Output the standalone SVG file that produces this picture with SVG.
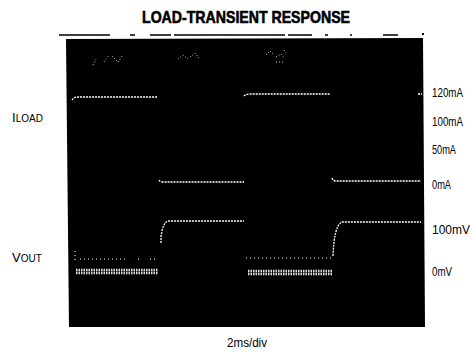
<svg xmlns="http://www.w3.org/2000/svg" width="472" height="354" viewBox="0 0 472 354">
<style>
.t{font-family:"Liberation Sans",Arial,sans-serif;fill:#000}
.lab{font-family:"Liberation Sans",Arial,sans-serif;font-size:13px;fill:#000}
.tr{fill:none;stroke:#fff;stroke-width:1.3;stroke-dasharray:2 1}
.trb{fill:none;stroke:#ddd;stroke-width:2.5;stroke-dasharray:1.5 1}
.dot{fill:none;stroke:#fff;stroke-width:1;stroke-dasharray:1 3}
</style>
<rect width="472" height="354" fill="#fff"/>
<text class="t" x="246" y="23" text-anchor="middle" font-size="17" font-weight="bold" stroke="#000" stroke-width="0.6" textLength="208" lengthAdjust="spacingAndGlyphs">LOAD-TRANSIENT RESPONSE</text>
<g id="frame">
<path d="M59 35H110M130 35H135M150 35H171M174 35H285M288 35H312M325 35H328M350 35H352M383 35H398" stroke="#000" stroke-width="1.3"/>
<rect x="422" y="33" width="2" height="2" fill="#000"/>
<polygon points="66,39 423,38 425,327 69,327" fill="#000"/>
</g>
<g id="marks" fill="none" stroke="#ccc" stroke-width="1" stroke-dasharray="1 2">
<path d="M93 65l3-6M104 62l5-7M112 56l6 6M118 62l4-6"/>
<path d="M178 59l5-4 5 4M190 57l5-4 4 5"/>
<path d="M266 55l4-4 4 4M276 57l5-3 3 4M284 50l2 3M276 62h8"/>
</g>
<g id="connectors">
<path class="tr" d="M72 100q2-3 6-3H157"/>
<path class="tr" d="M244 96q2-2 6-2H330"/>
<path class="tr" d="M418 94h4"/>
<path class="tr" d="M159 180q1 2 4 2H244"/>
<path class="tr" d="M332 178q1 3 4 3H421"/>
<path class="tr" d="M161 243v-6q2-16 8-16H244"/>
<path class="tr" d="M333 256q1-30 9-34H421"/>
<path class="dot" d="M75 251v10M80 259H128M138 259h4M150 259H158"/>
<path class="trb" d="M76 270H158M76 273H158"/>
<path class="dot" d="M246 258H332"/>
<path class="trb" d="M248 271H332M248 274H332"/>
</g>
<g id="iload-label"><text class="lab" x="12" y="122">I<tspan font-size="10">LOAD</tspan></text></g>
<g id="vout-label"><text class="lab" x="12" y="262">V<tspan font-size="10">OUT</tspan></text></g>
<g id="scale">
<text class="lab" x="432" y="97" textLength="31" lengthAdjust="spacingAndGlyphs">120mA</text>
<text class="lab" x="432" y="126" textLength="31" lengthAdjust="spacingAndGlyphs">100mA</text>
<text class="lab" x="432" y="154" textLength="24" lengthAdjust="spacingAndGlyphs">50mA</text>
<text class="lab" x="432" y="189" textLength="19" lengthAdjust="spacingAndGlyphs">0mA</text>
<text class="lab" x="432" y="234" textLength="38" lengthAdjust="spacingAndGlyphs">100mV</text>
<text class="lab" x="432" y="276" textLength="20" lengthAdjust="spacingAndGlyphs">0mV</text>
</g>
<text class="lab" x="247" y="347" text-anchor="middle" textLength="40" lengthAdjust="spacingAndGlyphs">2ms/div</text>
</svg>
